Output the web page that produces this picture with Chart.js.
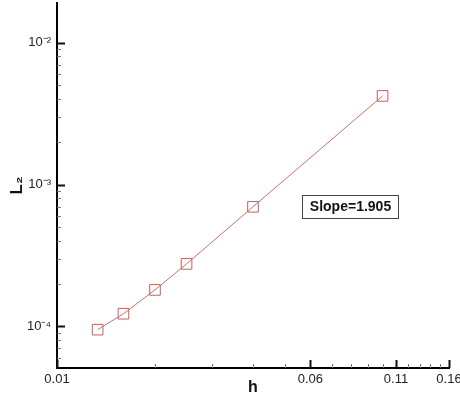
<!DOCTYPE html>
<html>
<head>
<meta charset="utf-8">
<script src="https://cdn.jsdelivr.net/npm/chart.js@4"></script>
<style>
  body { margin: 0; background: #fff; }
  #wrap { width: 460px; height: 398px; }
</style>
</head>
<body>
<div id="wrap"><canvas id="errChart" width="460" height="398"></canvas></div>
<script>
// mesh size vs L2 error
const hValues = [0.01333, 0.016, 0.02, 0.025, 0.04, 0.1];
const l2Errors = [9.5e-5, 1.23e-4, 1.81e-4, 2.76e-4, 6.97e-4, 4.21e-3];

// axis ticks
const xLabelValues = [0.01, 0.06, 0.11, 0.16];
const xMinorValues = [0.02, 0.03, 0.04, 0.05, 0.07, 0.08, 0.09, 0.10, 0.12, 0.13, 0.14, 0.15];
const yLabelValues = [1e-4, 1e-3, 1e-2];
const yLabelTexts = ['10\u207B\u2074', '10\u207B\u00B3', '10\u207B\u00B2'];
const yMinorValues = [6e-5, 7e-5, 8e-5, 9e-5,
    2e-4, 3e-4, 4e-4, 5e-4, 6e-4, 7e-4, 8e-4, 9e-4,
    2e-3, 3e-3, 4e-3, 5e-3, 6e-3, 7e-3, 8e-3, 9e-3];

const slopeText = 'Slope=1.905';

const font = 'Arial, "Liberation Sans", sans-serif';

// inward tick marks, tecplot style
const tickPlugin = {
    id: 'inwardTicks',
    afterDraw(chart) {
        const ctx = chart.ctx;
        const xs = chart.scales.x;
        const ys = chart.scales.y;
        const area = chart.chartArea;
        ctx.save();

        const drawX = (vals, len, w, col) => {
            ctx.strokeStyle = col;
            ctx.lineWidth = w;
            vals.forEach(v => {
                const px = Math.round(xs.getPixelForValue(v)) + 0.5;
                ctx.beginPath();
                ctx.moveTo(px, area.bottom);
                ctx.lineTo(px, area.bottom - len);
                ctx.stroke();
            });
        };
        const drawY = (vals, len, w, col) => {
            ctx.strokeStyle = col;
            ctx.lineWidth = w;
            vals.forEach(v => {
                const py = Math.round(ys.getPixelForValue(v)) + 0.5;
                if (py < area.top || py > area.bottom) return;
                ctx.beginPath();
                ctx.moveTo(area.left, py);
                ctx.lineTo(area.left + len, py);
                ctx.stroke();
            });
        };
        drawX(xMinorValues, 4, 1, '#777');
        drawX(xLabelValues, 8, 2, '#111');
        drawY(yMinorValues, 4, 1, '#777');
        drawY(yLabelValues, 8, 2, '#111');

        // slope label box
        ctx.font = 'bold 14px ' + font;
        ctx.textAlign = 'center';
        ctx.textBaseline = 'middle';
        ctx.fillStyle = '#fff';
        ctx.fillRect(302, 195, 96, 23);
        ctx.strokeStyle = '#444';
        ctx.lineWidth = 1;
        ctx.strokeRect(302.5, 195.5, 96, 23);
        ctx.fillStyle = '#111';
        ctx.fillText(slopeText, 350.5, 207.5);
        ctx.restore();
    }
};

const ctx = document.getElementById('errChart').getContext('2d');

new Chart(ctx, {
    type: 'line',
    data: {
        datasets: [{
            data: hValues.map((h, i) => ({ x: h, y: l2Errors[i] })),
            borderColor: '#c87070',
            borderWidth: 1,
            backgroundColor: 'transparent',
            pointStyle: 'rect',
            pointRadius: 7.5,
            pointBorderColor: '#c06060',
            pointBorderWidth: 1,
            pointBackgroundColor: 'transparent',
            tension: 0
        }]
    },
    options: {
        responsive: false,
        animation: false,
        events: [],
        layout: { autoPadding: false, padding: { top: 3, right: 11, left: 0, bottom: 0 } },
        plugins: {
            legend: { display: false },
            tooltip: { enabled: false }
        },
        scales: {
            x: {
                type: 'logarithmic',
                min: 0.01,
                max: 0.16,
                grid: { display: false, drawTicks: false },
                border: { display: true, color: '#000', width: 2 },
                afterBuildTicks: s => { s.ticks = xLabelValues.map(v => ({ value: v })); },
                afterFit: s => { s.height = 30; s.paddingLeft = 0; s.paddingRight = 0; },
                ticks: {
                    autoSkip: false,
                    maxRotation: 0,
                    padding: 4,
                    color: '#222',
                    font: { family: font, size: 13 },
                    callback: v => String(Number(v))
                },
                title: {
                    display: true,
                    text: 'h',
                    color: '#111',
                    font: { family: font, size: 16, weight: 'bold' },
                    padding: { top: 0, bottom: 1 }
                }
            },
            y: {
                type: 'logarithmic',
                min: 5.1e-5,
                max: 0.019,
                grid: { display: false, drawTicks: false },
                border: { display: true, color: '#000', width: 2 },
                afterBuildTicks: s => { s.ticks = yLabelValues.map(v => ({ value: v })); },
                afterFit: s => { s.width = 57; s.paddingTop = 0; s.paddingBottom = 0; },
                ticks: {
                    autoSkip: false,
                    padding: 6,
                    color: '#222',
                    font: { family: font, size: 13 },
                    callback: (v, i) => yLabelTexts[i]
                },
                title: {
                    display: true,
                    text: 'L\u2082',
                    color: '#111',
                    font: { family: font, size: 17, weight: 'bold' },
                    padding: { top: 7, bottom: 0 }
                }
            }
        }
    },
    plugins: [tickPlugin]
});
</script>
</body>
</html>
